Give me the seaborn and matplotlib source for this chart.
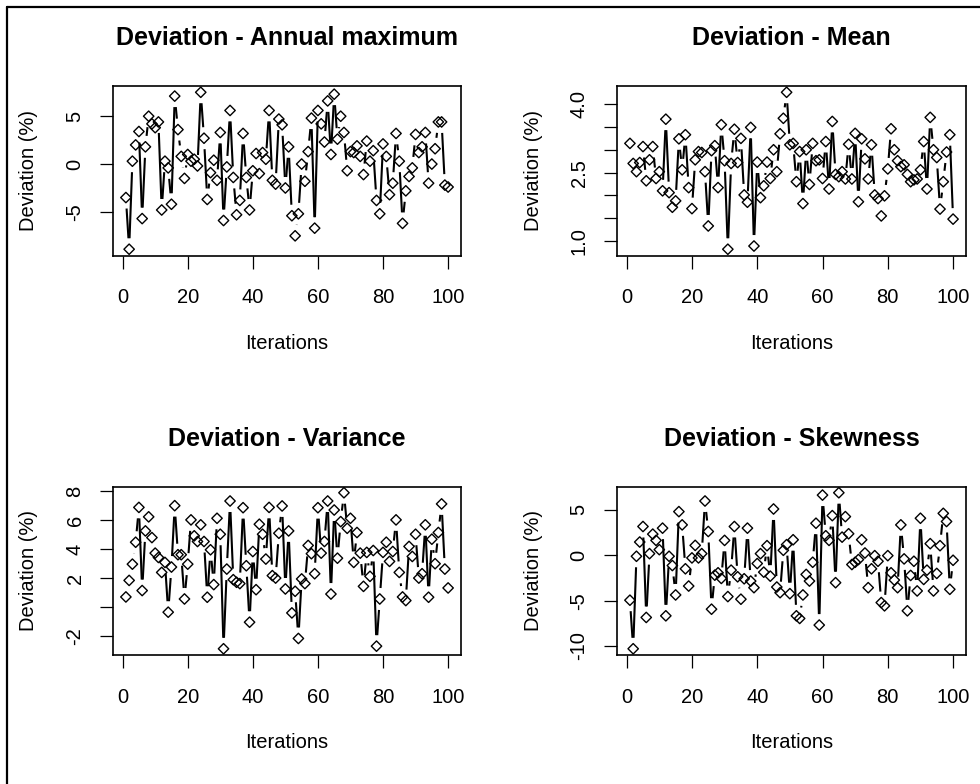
import numpy as np
import pandas as pd
import matplotlib
matplotlib.use("Agg")
import matplotlib.pyplot as plt
import seaborn as sns
from matplotlib.collections import LineCollection
from matplotlib.lines import Line2D

# ---------------- data ----------------
iterations = list(range(1, 101))

annual_max = [-3.5, -8.9, 0.3, 2.0, 3.4, -5.7, 1.8, 5.0, 4.2, 3.8,
              4.4, -4.8, 0.3, -0.4, -4.2, 7.1, 3.6, 0.8, -1.5, 1.0,
              0.3, 0.5, -0.2, 7.5, 2.7, -3.7, -0.9, 0.4, -1.7, 3.3,
              -5.9, -0.3, 5.6, -1.4, -5.3, -3.8, 3.2, -1.4, -4.8, -0.7,
              1.1, -1.0, 1.2, 0.5, 5.6, -1.7, -2.1, 4.7, 4.1, -2.5,
              1.8, -5.4, -7.5, -5.2, 0.0, -1.8, 1.3, 4.8, -6.7, 5.6,
              4.2, 2.3, 6.6, 1.0, 7.3, 2.6, 5.0, 3.3, -0.7, 1.3,
              1.2, 1.9, 0.8, -1.1, 2.4, 0.3, 1.4, -3.8, -5.2, 2.1,
              0.8, -3.2, -2.0, 3.2, 0.3, -6.2, -2.8, -1.3, -0.4, 3.1,
              1.2, 1.8, 3.3, -2.0, 0.0, 1.6, 4.4, 4.4, -2.2, -2.4]

mean_dev = [3.14, 2.70, 2.52, 2.72, 3.07, 2.32, 2.78, 3.07, 2.37, 2.52,
            2.10, 3.67, 2.06, 1.74, 1.88, 3.24, 2.56, 3.33, 2.17, 1.71,
            2.78, 2.96, 2.94, 2.52, 1.33, 2.98, 3.09, 2.17, 3.55, 2.76,
            0.82, 2.70, 3.45, 2.72, 3.25, 2.01, 1.85, 3.49, 0.89, 2.73,
            1.95, 2.21, 2.73, 2.37, 3.00, 2.52, 3.35, 3.69, 4.26, 3.11,
            3.14, 2.30, 2.96, 1.82, 3.00, 2.24, 3.14, 2.76, 2.78, 2.37,
            3.18, 2.14, 3.62, 2.46, 2.41, 2.52, 2.36, 3.12, 2.36, 3.36,
            1.86, 3.24, 2.80, 2.36, 3.11, 2.01, 1.93, 1.55, 1.99, 2.58,
            3.46, 3.00, 2.76, 2.63, 2.67, 2.46, 2.30, 2.34, 2.36, 2.56,
            3.18, 2.14, 3.71, 3.00, 2.83, 1.70, 2.30, 2.95, 3.33, 1.48]

variance_dev = [0.70, 1.84, 2.96, 4.47, 6.87, 1.14, 5.25, 6.22, 4.79, 3.72,
                3.42, 2.39, 3.08, -0.35, 2.76, 6.99, 3.61, 3.61, 0.56, 2.96,
                6.01, 4.91, 4.52, 5.67, 4.52, 0.68, 3.95, 1.55, 6.12, 5.02,
                -2.87, 2.62, 7.31, 1.89, 1.71, 1.62, 6.85, 2.85, -1.04, 3.83,
                1.20, 5.71, 5.02, 3.31, 6.87, 2.17, 2.00, 5.09, 6.97, 1.25,
                5.25, -0.40, 1.09, -2.16, 1.94, 1.62, 4.25, 3.68, 2.30, 6.85,
                3.72, 4.52, 7.31, 0.90, 6.69, 3.37, 5.89, 7.88, 5.43, 6.12,
                3.08, 5.14, 3.72, 1.43, 3.77, 2.12, 3.90, -2.69, 0.56, 3.77,
                4.47, 3.15, 3.83, 6.01, 2.39, 0.70, 0.45, 4.18, 3.49, 5.02,
                2.00, 2.30, 5.67, 0.68, 4.68, 2.99, 5.14, 7.11, 2.62, 1.32]

skewness_dev = [-4.95, -10.3, -0.11, 1.46, 3.17, -6.85, 0.18, 2.33, 1.64, 0.62,
                2.99, -6.67, -0.11, -1.13, -4.37, 4.81, 3.35, -1.49, -3.39, -0.29,
                1.09, -0.29, 0.18, 5.98, 2.62, -5.94, -2.19, -1.93, -2.55, 1.64,
                -4.55, -1.64, 3.17, -2.37, -4.84, -2.59, 2.99, -2.84, -3.57, -0.91,
                0.18, -1.86, 1.06, -2.30, 5.10, -3.50, -4.12, 0.55, 1.17, -4.23,
                1.71, -6.67, -6.96, -4.37, -2.11, -2.84, -0.77, 3.53, -7.69, 6.63,
                2.15, 1.64, 4.37, -3.02, 6.89, 2.00, 4.26, 2.37, -1.02, -0.77,
                -0.47, 1.71, 0.25, -3.57, -1.49, -0.04, -0.66, -5.21, -5.57, -0.04,
                -1.93, -2.73, -3.57, 3.35, -0.40, -6.12, -2.22, -0.66, -3.93, 4.08,
                -2.66, -1.64, 1.28, -3.93, -2.00, 1.06, 4.62, 3.72, -3.75, -0.55]

titles = ["Deviation - Annual maximum", "Deviation - Mean",
          "Deviation - Variance", "Deviation - Skewness"]
x_ticks = [0, 20, 40, 60, 80, 100]
y_ticks_list = [[-5, 0, 5],
                [1.0, 1.5, 2.0, 2.5, 3.0, 3.5, 4.0],
                [-2, 0, 2, 4, 6, 8],
                [-10, -5, 0, 5]]
y_labels_list = [["-5", "0", "5"],
                 ["1.0", "", "", "2.5", "", "", "4.0"],
                 ["-2", "", "2", "4", "6", "8"],
                 ["-10", "-5", "0", "5"]]
x_label = "Iterations"
y_label = "Deviation (%)"

series = [annual_max, mean_dev, variance_dev, skewness_dev]

# ---------------- style ----------------
sns.set_theme(style="white")
plt.rcParams['font.family'] = ['Liberation Sans', 'DejaVu Sans']
plt.rcParams['axes.edgecolor'] = 'black'
plt.rcParams['xtick.color'] = 'black'
plt.rcParams['ytick.color'] = 'black'
plt.rcParams['text.color'] = 'black'
plt.rcParams['axes.labelcolor'] = 'black'

W, H = 980, 784
fig = plt.figure(figsize=(W / 100, H / 100), dpi=100)
fig.patch.set_facecolor('white')

# panel boxes in pixels: left, right, top, bottom
boxes = [(113, 461, 86, 255.5), (617, 966, 86, 255.5),
         (113, 461, 486.5, 655), (617, 966, 486.5, 655)]
ylabel_x = [29, 533, 29, 533]

GAP = 11  # pixel gap of R type="b" lines


def gapped_segments(ax, xs, ys, gap_px):
    pts = ax.transData.transform(np.column_stack([xs, ys]))
    inv = ax.transData.inverted()
    segs = []
    for p0, p1 in zip(pts[:-1], pts[1:]):
        d = p1 - p0
        L = np.hypot(d[0], d[1])
        if L > 2 * gap_px:
            u = d / L
            segs.append(inv.transform(np.array([p0 + u * gap_px, p1 - u * gap_px])))
    return segs


for k, (vals, title, yt, yl) in enumerate(zip(series, titles, y_ticks_list, y_labels_list)):
    l, r, t, b = boxes[k]
    ax = fig.add_axes([l / W, 1 - b / H, (r - l) / W, (b - t) / H])
    df = pd.DataFrame({"Iterations": iterations, "Deviation": vals})

    # R-style 4% extension of the data range
    xmin, xmax = min(iterations), max(iterations)
    ymin, ymax = min(vals), max(vals)
    dx, dy = (xmax - xmin) * 0.04, (ymax - ymin) * 0.04
    ax.set_xlim(xmin - dx, xmax + dx)
    ax.set_ylim(ymin - dy, ymax + dy)

    segs = gapped_segments(ax, df["Iterations"].values, df["Deviation"].values, GAP)
    ax.add_collection(LineCollection(segs, colors='black', linewidths=1.5))

    sns.scatterplot(data=df, x="Iterations", y="Deviation", ax=ax, marker='D',
                    s=28, facecolor='none', edgecolor='black', linewidth=1.0,
                    zorder=3, legend=False)
    ax.set_xlim(xmin - dx, xmax + dx)
    ax.set_ylim(ymin - dy, ymax + dy)

    ax.set_xticks(x_ticks, labels=[str(v) for v in x_ticks])
    ax.set_yticks(yt, labels=yl, rotation=90, va='center')
    ax.tick_params(axis='both', direction='out', length=9.5, width=0.9,
                   labelsize=14.5, colors='black')
    ax.tick_params(axis='x', bottom=True, pad=14)
    ax.tick_params(axis='y', left=True, pad=11)
    for sp in ax.spines.values():
        sp.set_visible(True)
        sp.set_color('black')
        sp.set_linewidth(1.2)

    hpx = b - t
    ax.text(0.5, 1 + 48 / hpx, title, transform=ax.transAxes, ha='center',
            va='center', fontsize=18, fontweight='bold')
    ax.set_xlabel(x_label, fontsize=14.5)
    ax.xaxis.set_label_coords(0.5, -88 / hpx)
    ax.xaxis.label.set_va('center')
    ax.set_ylabel(y_label, fontsize=14.5)
    ax.yaxis.set_label_coords(-(l - ylabel_x[k]) / (r - l), 0.5)
    ax.yaxis.label.set_va('center')
    ax.grid(False)

# outer frame (left and top edges visible)
fig.add_artist(Line2D([7 / W, 7 / W], [0, 1 - 7 / H], transform=fig.transFigure,
                      color='black', lw=1.6))
fig.add_artist(Line2D([7 / W, 1], [1 - 7 / H, 1 - 7 / H], transform=fig.transFigure,
                      color='black', lw=1.6))

fig.savefig("out.png", dpi=100, facecolor='white')
